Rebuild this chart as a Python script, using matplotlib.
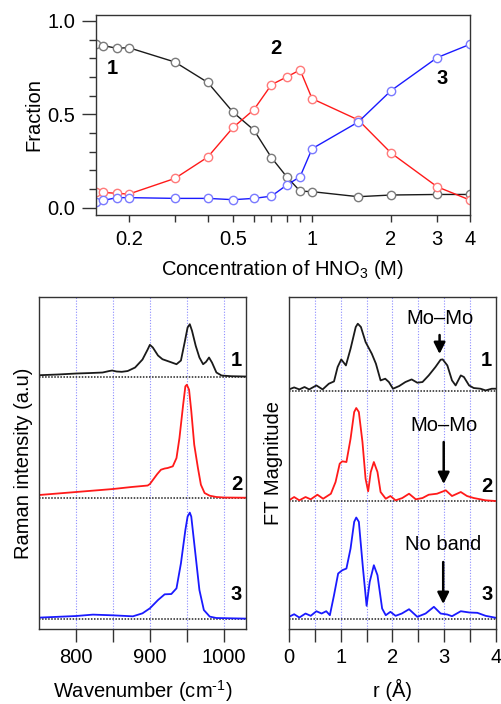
import matplotlib
matplotlib.use("Agg")
import matplotlib.pyplot as plt
from matplotlib.ticker import FixedLocator, NullFormatter, MultipleLocator

plt.rcParams["font.family"] = ["Liberation Sans", "DejaVu Sans"]
plt.rcParams["font.size"] = 14.5
plt.rcParams["mathtext.fontset"] = "custom"
plt.rcParams["mathtext.rm"] = "Liberation Sans"
plt.rcParams["mathtext.it"] = "Liberation Sans:italic"
plt.rcParams["mathtext.bf"] = "Liberation Sans:bold"

# --- top panel: species fractions vs HNO3 concentration ---
conc = [0.15, 0.16, 0.18, 0.2, 0.3, 0.4, 0.5, 0.6, 0.7, 0.8, 0.9, 1.0, 1.5, 2, 3, 4]
frac_1 = [0.875, 0.868, 0.854, 0.857, 0.780, 0.671, 0.511, 0.416, 0.268, 0.166,
          0.089, 0.086, 0.059, 0.068, 0.071, 0.071]
frac_2 = [0.082, 0.082, 0.077, 0.073, 0.157, 0.271, 0.430, 0.525, 0.659, 0.700,
          0.738, 0.584, 0.470, 0.293, 0.112, 0.041]
frac_3 = [0.032, 0.039, 0.054, 0.054, 0.050, 0.050, 0.043, 0.050, 0.062, 0.121,
          0.166, 0.316, 0.459, 0.627, 0.804, 0.875]

# --- Raman spectra (arbitrary units, above each baseline) ---
raman_wn_1 = [750, 775, 800, 820, 836, 845, 849, 855, 862, 870, 880, 890, 897, 900,
              904, 911, 917, 927, 936, 942, 947, 951, 954, 957, 962, 967, 972, 976,
              980, 984, 990, 997, 1010, 1030]
raman_int_1 = [1.3, 2, 3, 3.5, 4, 5.5, 6, 5, 4.7, 5.5, 9, 17, 27, 31.7,
               29, 21, 17.3, 14.7, 12.3, 16, 34, 49, 52.3, 45.7, 30.7, 19, 12.3, 14.7,
               19, 14, 4, 1, 0.3, 0]
raman_wn_2 = [750, 775, 800, 825, 850, 875, 897, 900, 905, 910, 915, 920, 924, 931,
              936, 940, 945, 948, 950, 953, 956, 960, 965, 969, 974, 981, 990, 1000,
              1030]
raman_int_2 = [3, 4.5, 6, 7.5, 9, 11, 12.5, 14, 19, 24, 28.3, 29.5, 30, 31.7,
               40, 60, 93.3, 111.7, 113.3, 108.3, 87, 53.3, 30, 13.3, 5, 2.3, 1, 0.5,
               0.3]
raman_wn_3 = [750, 775, 800, 823, 850, 877, 890, 900, 911, 920, 929, 936, 942, 948,
              951, 954, 956, 962, 967, 973, 981, 990, 1030]
raman_int_3 = [1.7, 2.5, 3.3, 4.7, 4, 3, 6, 11, 19.3, 25, 25.3, 31, 56, 89.3,
               102.7, 106.7, 102.7, 62.7, 29.3, 9.3, 2.7, 1.3, 0.7]
raman_offsets = [252.5, 131, 9.7]

# --- EXAFS Fourier transforms ---
ft_r_1 = [0.0, 0.10, 0.20, 0.30, 0.39, 0.53, 0.65, 0.77, 0.87, 0.94, 1.01, 1.10,
          1.19, 1.29, 1.33, 1.39, 1.48, 1.60, 1.68, 1.77, 1.86, 1.93, 2.01, 2.13,
          2.25, 2.37, 2.48, 2.58, 2.70, 2.83, 2.93, 2.97, 3.06, 3.15, 3.22, 3.32,
          3.38, 3.48, 3.57, 3.70, 3.80, 3.92, 4.0]
ft_mag_1 = [1.3, 3.3, 1.3, 3.7, 1.3, 5.3, 1.3, 7, 9.3, 23.7, 31.3, 25.3,
            42, 63.7, 67, 63.7, 48.7, 37, 27, 10.3, 12, 8.7, 2, 4.7,
            8.7, 11.3, 8, 8.7, 15.3, 23.7, 31, 31.3, 25.3, 10.3, 5.3, 15.3,
            13.7, 5.3, 2.7, 2, 0.3, 2, 2]
ft_r_2 = [0.0, 0.10, 0.20, 0.32, 0.42, 0.55, 0.66, 0.81, 0.90, 0.98, 1.03, 1.11,
          1.19, 1.26, 1.30, 1.35, 1.42, 1.48, 1.53, 1.58, 1.64, 1.71, 1.77, 1.87,
          1.96, 2.06, 2.19, 2.32, 2.45, 2.58, 2.70, 2.86, 3.03, 3.15, 3.32, 3.44,
          3.57, 3.80, 4.0]
ft_mag_2 = [0.7, 4, 0.7, 4, 1.7, 6.3, 2.3, 7.3, 19, 37.3, 39.7, 39,
            62.3, 89, 93, 89, 59, 22.3, 9.7, 29, 39, 29, 9, 2.3,
            5, 0.7, 3, 7.3, 1.7, 3, 6.3, 7.3, 10.7, 5, 9, 5,
            3, 0.7, 0]
ft_r_3 = [0.0, 0.10, 0.20, 0.32, 0.42, 0.53, 0.63, 0.72, 0.79, 0.87, 0.95, 1.03,
          1.11, 1.19, 1.26, 1.30, 1.35, 1.43, 1.50, 1.56, 1.64, 1.71, 1.80, 1.87,
          1.96, 2.06, 2.18, 2.32, 2.48, 2.64, 2.80, 2.93, 3.06, 3.15, 3.32, 3.49,
          3.64, 3.80, 4.0]
ft_mag_3 = [1.7, 4.3, 1, 5, 2.7, 7.3, 5, 7.3, 3.3, 23.3, 45, 48.3,
            50, 70, 96.7, 101, 96.7, 50, 12.7, 36.7, 53.3, 43.3, 10, 3.3,
            6.7, 2.7, 5, 9.3, 1.7, 5, 11.7, 5, 4, 2.3, 7.3, 6,
            5.7, 2.7, 0.7]
ft_offsets = [238.3, 128, 10.5]

line_cols = ["#1a1a1a", "#ff1a1a", "#1a1aff"]
mark_cols = ["#7a7a7a", "#ff7a7a", "#7a7aff"]
grid_col = "#8c8cff"
frame_col = "#333333"


def style_frame(ax):
    for s in ax.spines.values():
        s.set_color(frame_col)
        s.set_linewidth(1.0)


fig = plt.figure(figsize=(5.01, 7.04), dpi=100)

# top panel
ax = fig.add_axes([0.1916, 0.6946, 0.7465, 0.2841])
for y, lc, mc in zip([frac_1, frac_2, frac_3], line_cols, mark_cols):
    ax.plot(conc, y, "-", color=lc, lw=1.0, marker="o", ms=6, mfc="white",
            mec=mc, mew=1.0)
ax.set_xscale("log")
ax.set_xlim(0.15, 4)
ax.set_ylim(-0.039, 1.032)
ax.xaxis.set_major_locator(FixedLocator([0.2, 0.5, 1, 2, 3, 4]))
ax.xaxis.set_minor_locator(FixedLocator([0.3, 0.4, 0.6, 0.7, 0.8, 0.9]))
ax.xaxis.set_minor_formatter(NullFormatter())
ax.set_xticklabels(["0.2", "0.5", "1", "2", "3", "4"])
ax.yaxis.set_major_locator(FixedLocator([0, 0.5, 1.0]))
ax.yaxis.set_minor_locator(MultipleLocator(0.1))
ax.set_yticklabels(["0.0", "0.5", "1.0"])
ax.tick_params(axis="x", which="both", direction="out", length=5, width=1,
               color=frame_col, pad=6)
ax.tick_params(axis="y", which="major", direction="out", length=10, width=1,
               color=frame_col, pad=5)
ax.tick_params(axis="y", which="minor", direction="out", length=5, width=1,
               color=frame_col)
ax.set_xlabel("Concentration of HNO$_3$ (M)", labelpad=6)
ax.set_ylabel("Fraction", labelpad=3)
ax.text(0.173, 0.748, "1", fontweight="bold", ha="center", va="center")
ax.text(0.73, 0.85, "2", fontweight="bold", ha="center", va="center")
ax.text(3.13, 0.69, "3", fontweight="bold", ha="center", va="center")
style_frame(ax)

# bottom-left: Raman
axr = fig.add_axes([0.0778, 0.1065, 0.4132, 0.4716])
for g in [800, 850, 900, 950, 1000]:
    axr.axvline(g, color=grid_col, lw=0.8, ls=(0, (1, 1.5)), zorder=0)
raman = [(raman_wn_1, raman_int_1), (raman_wn_2, raman_int_2), (raman_wn_3, raman_int_3)]
for (wn, inten), off, lc in zip(raman, raman_offsets, line_cols):
    axr.axhline(off, color="#222222", lw=1.1, ls=(0, (1, 1)), zorder=1)
    axr.plot(wn, [v + off for v in inten], color=lc, lw=1.3, zorder=2)
axr.set_xlim(750, 1030)
axr.set_ylim(0, 332)
axr.set_yticks([])
axr.xaxis.set_major_locator(FixedLocator([800, 900, 1000]))
axr.xaxis.set_minor_locator(FixedLocator([850, 950]))
axr.tick_params(axis="x", which="both", direction="out", length=9, width=1,
                color=frame_col, pad=5)
axr.set_xlabel(r"Wavenumber (cm$^{\text{-}1}$)", labelpad=8)
axr.set_ylabel("Raman intensity (a.u)", labelpad=4)
for lab, y in zip(["1", "2", "3"], [269, 145, 35]):
    axr.text(1017, y, lab, fontweight="bold", ha="center", va="center")
style_frame(axr)

# bottom-right: FT magnitude
axf = fig.add_axes([0.5768, 0.1065, 0.4132, 0.4716])
for g in [0.5, 1.0, 1.5, 2.0, 2.5, 3.0, 3.5]:
    axf.axvline(g, color=grid_col, lw=0.8, ls=(0, (1, 1.5)), zorder=0)
ft = [(ft_r_1, ft_mag_1), (ft_r_2, ft_mag_2), (ft_r_3, ft_mag_3)]
for (r, mag), off, lc in zip(ft, ft_offsets, line_cols):
    axf.axhline(off, color="#222222", lw=1.1, ls=(0, (1, 1)), zorder=1)
    axf.plot(r, [v + off for v in mag], color=lc, lw=1.3, zorder=2)
axf.set_xlim(0, 4)
axf.set_ylim(0, 332)
axf.set_yticks([])
axf.xaxis.set_major_locator(FixedLocator([0, 1, 2, 3, 4]))
axf.xaxis.set_minor_locator(MultipleLocator(0.5))
axf.tick_params(axis="x", which="both", direction="out", length=9, width=1,
                color=frame_col, pad=5)
axf.set_xlabel("r (Å)", labelpad=8)
axf.set_ylabel("FT Magnitude", labelpad=4)
for lab, y in zip(["1", "2", "3"], [269, 143, 35]):
    axf.text(3.82, y, lab, fontweight="bold", ha="center", va="center")

notes = [("Mo–Mo", 2.91, 311, 294, 275), ("Mo–Mo", 2.99, 204, 187, 145),
         ("No band", 2.98, 85, 67, 25)]
for txt, r, ty, y0, y1 in notes:
    axf.text(r, ty, txt, ha="center", va="center")
    axf.annotate("", xy=(r, y1), xytext=(r, y0),
                 arrowprops=dict(arrowstyle="-|>", color="k", lw=1.8,
                                 mutation_scale=17, shrinkA=0, shrinkB=0))
style_frame(axf)

fig.savefig("out.png", dpi=100)
